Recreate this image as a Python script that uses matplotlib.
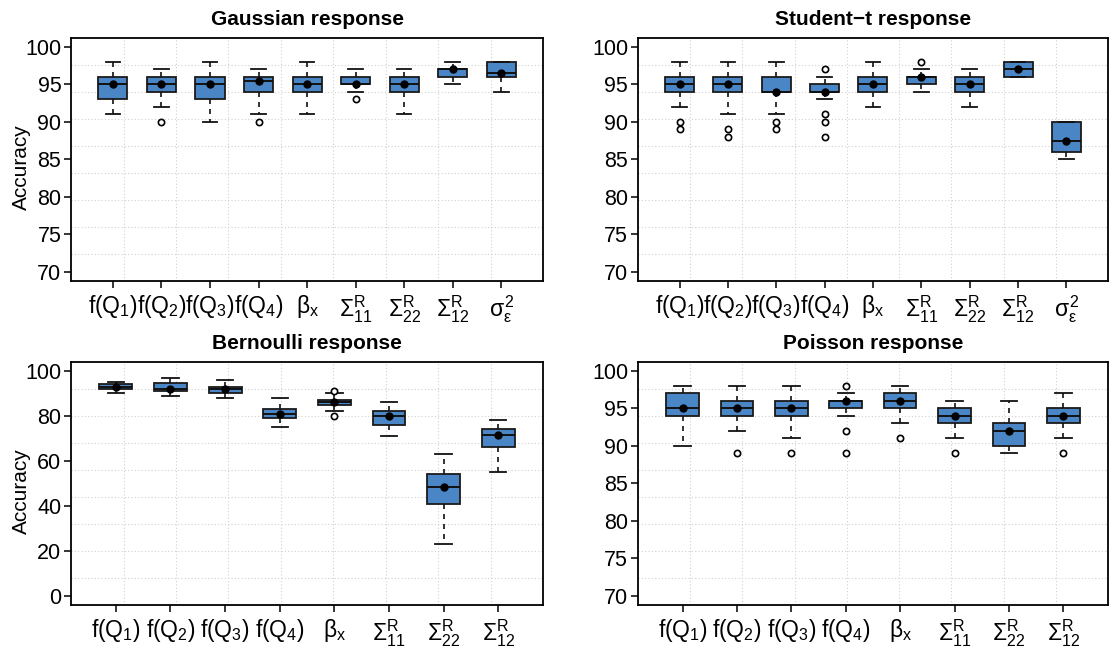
import matplotlib
matplotlib.use("Agg")
import matplotlib.pyplot as plt
import numpy as np

plt.rcParams['font.family'] = ['Liberation Sans', 'DejaVu Sans']
plt.rcParams['mathtext.fontset'] = 'custom'
plt.rcParams['mathtext.rm'] = 'Liberation Sans'
plt.rcParams['mathtext.it'] = 'Liberation Sans'
plt.rcParams['mathtext.bf'] = 'Liberation Sans:bold'

BOX_BLUE = '#4a86c6'

labels_full = [r'$\mathrm{f(Q_1)}$', r'$\mathrm{f(Q_2)}$', r'$\mathrm{f(Q_3)}$', r'$\mathrm{f(Q_4)}$',
               r'$\beta_x$', r'$\Sigma^R_{11}$', r'$\Sigma^R_{22}$', r'$\Sigma^R_{12}$',
               r'$\sigma^2_\varepsilon$']
labels_short = labels_full[:8]

# Gaussian response
gau_whislo = [91, 92, 90, 91, 91, 94, 91, 95, 94]
gau_q1 = [93, 94, 93, 94, 94, 95, 94, 96, 96]
gau_med = [95, 95, 95, 95.5, 95, 95, 95, 97, 96.5]
gau_q3 = [96, 96, 96, 96, 96, 96, 96, 97, 98]
gau_whishi = [98, 97, 98, 97, 98, 97, 97, 98, 98]
gau_mean = [95, 95, 95, 95.5, 95, 95, 95, 97, 96.5]
gau_fliers = [[], [90], [], [90], [], [93], [], [], []]

# Student-t response
stu_whislo = [92, 91, 91, 93, 92, 94, 92, 96, 85]
stu_q1 = [94, 94, 94, 94, 94, 95, 94, 96, 86]
stu_med = [95, 95, 94, 94, 95, 96, 95, 97, 87.5]
stu_q3 = [96, 96, 96, 95, 96, 96, 96, 98, 90]
stu_whishi = [98, 98, 98, 96, 98, 97, 97, 98, 90]
stu_mean = [95, 95, 94, 94, 95, 96, 95, 97, 87.5]
stu_fliers = [[90, 89], [89, 88], [90, 89], [97, 91, 90, 88], [], [98], [], [], []]

# Bernoulli response
ber_whislo = [90, 89, 88, 75, 82, 71, 23, 55]
ber_q1 = [92, 91, 90, 79, 85, 76, 41, 66]
ber_med = [93, 92, 92, 81, 86, 80, 48.5, 71.5]
ber_q3 = [94, 94.5, 93, 83, 87, 82, 54, 74]
ber_whishi = [95, 97, 96, 88, 90, 86, 63, 78]
ber_mean = [93, 92, 92, 81, 86, 80, 48.5, 71.5]
ber_fliers = [[], [], [], [], [91, 80], [], [], []]

# Poisson response
poi_whislo = [90, 92, 91, 94, 93, 91, 89, 91]
poi_q1 = [94, 94, 94, 95, 95, 93, 90, 93]
poi_med = [95, 95, 95, 96, 96, 94, 92, 94]
poi_q3 = [97, 96, 96, 96, 97, 95, 93, 95]
poi_whishi = [98, 98, 98, 97, 98, 96, 96, 97]
poi_mean = [95, 95, 95, 96, 96, 94, 92, 94]
poi_fliers = [[], [89], [89], [98, 92, 89], [91], [89], [], [89]]


def make_stats(whislo, q1, med, q3, whishi, mean, fliers):
    out = []
    for i in range(len(med)):
        out.append(dict(whislo=whislo[i], q1=q1[i], med=med[i], q3=q3[i],
                        whishi=whishi[i], mean=mean[i], fliers=fliers[i]))
    return out


def draw_panel(ax, stats, labels, title, yticks, ylabel=None):
    n = len(stats)
    ax.bxp(stats, positions=np.arange(1, n + 1), widths=0.6, capwidths=0.3,
           patch_artist=True, showmeans=True, showfliers=True,
           boxprops=dict(facecolor=BOX_BLUE, edgecolor='#1a1a1a', linewidth=1.3),
           medianprops=dict(color='#111111', linewidth=1.4),
           whiskerprops=dict(color='#111111', linewidth=1.2, linestyle=(0, (3, 3))),
           capprops=dict(color='#111111', linewidth=1.3),
           meanprops=dict(marker='o', markerfacecolor='black', markeredgecolor='black',
                          markersize=5),
           flierprops=dict(marker='o', markerfacecolor='white', markeredgecolor='black',
                           markersize=4.5, markeredgewidth=1.2))
    # R style axis limits: 4% padding
    ax.set_xlim(0.5 - 0.04 * n, n + 0.5 + 0.04 * n)
    lo, hi = yticks[0], yticks[-1]
    pad = 0.04 * (hi - lo)
    ax.set_ylim(lo - pad, hi + pad)
    ax.set_yticks(yticks)
    ax.set_xticks(np.arange(1, n + 1))
    ax.set_xticklabels(labels)
    # light dotted grid splitting the panel into 9x9 cells
    for k in range(1, 9):
        ax.plot([k / 9, k / 9], [0, 1], transform=ax.transAxes, color='#d0d0d0',
                linestyle=(0, (1, 2)), linewidth=0.8, zorder=0)
        ax.plot([0, 1], [k / 9, k / 9], transform=ax.transAxes, color='#d0d0d0',
                linestyle=(0, (1, 2)), linewidth=0.8, zorder=0)
    ax.tick_params(axis='both', direction='out', length=5, width=1.1, colors='black')
    ax.tick_params(axis='x', pad=4, labelsize=16.5)
    ax.tick_params(axis='y', pad=2, labelsize=15.5)
    for s in ax.spines.values():
        s.set_linewidth(1.3)
    ax.set_title(title, fontsize=15, fontweight='bold', pad=9)
    if ylabel:
        ax.set_ylabel(ylabel, fontsize=15)
        ax.yaxis.set_label_coords(-0.084, 0.47)


fig = plt.figure(figsize=(11.12, 6.48), dpi=100)
ax1 = fig.add_axes([0.0639, 0.5664, 0.4245, 0.375])
ax2 = fig.add_axes([0.5737, 0.5664, 0.4227, 0.375])
ax3 = fig.add_axes([0.0639, 0.0664, 0.4245, 0.375])
ax4 = fig.add_axes([0.5737, 0.0664, 0.4227, 0.375])

draw_panel(ax1, make_stats(gau_whislo, gau_q1, gau_med, gau_q3, gau_whishi, gau_mean, gau_fliers),
           labels_full, 'Gaussian response', [70, 75, 80, 85, 90, 95, 100], 'Accuracy')
draw_panel(ax2, make_stats(stu_whislo, stu_q1, stu_med, stu_q3, stu_whishi, stu_mean, stu_fliers),
           labels_full, 'Student\u2212t response', [70, 75, 80, 85, 90, 95, 100])
draw_panel(ax3, make_stats(ber_whislo, ber_q1, ber_med, ber_q3, ber_whishi, ber_mean, ber_fliers),
           labels_short, 'Bernoulli response', [0, 20, 40, 60, 80, 100], 'Accuracy')
draw_panel(ax4, make_stats(poi_whislo, poi_q1, poi_med, poi_q3, poi_whishi, poi_mean, poi_fliers),
           labels_short, 'Poisson response', [70, 75, 80, 85, 90, 95, 100])

fig.savefig('out.png', dpi=100)
